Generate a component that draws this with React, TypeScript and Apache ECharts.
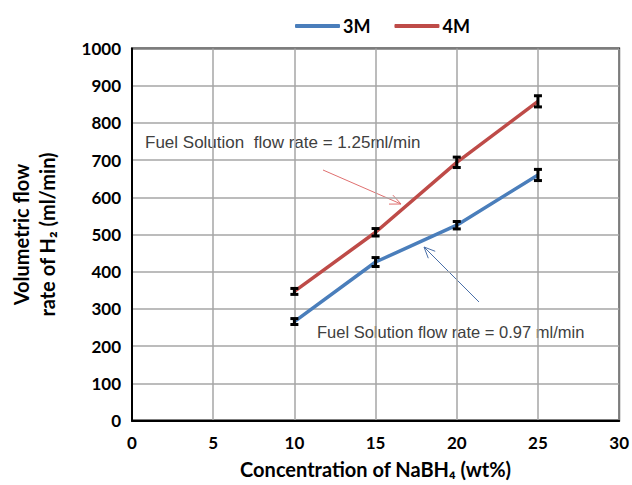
import React, { useEffect, useRef } from "react";
import * as echarts from "echarts";

const concentrations = [10, 15, 20, 25];
const series3M = [266, 426, 525, 660];
const series4M = [347, 506, 694, 858];
const err3M = [8, 12, 10, 15];
const err4M = [8, 10, 14, 15];
const xTicks = [0, 5, 10, 15, 20, 25, 30];
const yTicks = [0, 100, 200, 300, 400, 500, 600, 700, 800, 900, 1000];

const FONT = "Lato, 'Open Sans', sans-serif";
const ANN_FONT = "'Liberation Sans', Arial, sans-serif";

function arrow(x1: number, y1: number, x2: number, y2: number, color: string) {
  const ang = Math.atan2(y2 - y1, x2 - x1);
  const L = 12;
  const a = 0.42;
  const p1 = [x2 - L * Math.cos(ang - a), y2 - L * Math.sin(ang - a)];
  const p2 = [x2 - L * Math.cos(ang + a), y2 - L * Math.sin(ang + a)];
  return [
    { type: "line", shape: { x1, y1, x2, y2 }, style: { stroke: color, lineWidth: 1 } },
    { type: "polyline", shape: { points: [p1, [x2, y2], p2] }, style: { stroke: color, lineWidth: 1, fill: null } },
  ];
}

export default function App() {
  const ref = useRef<HTMLDivElement>(null);
  useEffect(() => {
    const chart = echarts.init(ref.current!, null, { renderer: "svg" });
    const errData = (vals: number[], errs: number[]) =>
      concentrations.map((x, i) => [x, vals[i] - errs[i], vals[i] + errs[i]]);
    const errSeries = (name: string, vals: number[], errs: number[]) => ({
      type: "custom",
      name: name + " err",
      data: errData(vals, errs),
      z: 5,
      renderItem: (params: any, api: any) => {
        const x = api.value(0);
        const lo = api.coord([x, api.value(1)]);
        const hi = api.coord([x, api.value(2)]);
        const w = 4;
        const st = { stroke: "#000", lineWidth: 3 };
        return {
          type: "group",
          children: [
            { type: "line", shape: { x1: lo[0], y1: lo[1], x2: hi[0], y2: hi[1] }, style: st },
            { type: "line", shape: { x1: lo[0] - w, y1: lo[1], x2: lo[0] + w, y2: lo[1] }, style: st },
            { type: "line", shape: { x1: hi[0] - w, y1: hi[1], x2: hi[0] + w, y2: hi[1] }, style: st },
          ],
        };
      },
    });
    chart.setOption({
      animation: false,
      textStyle: { fontFamily: FONT },
      legend: {
        data: ["3M", "4M"],
        left: 290,
        top: 12,
        itemWidth: 45,
        itemHeight: 4,
        itemGap: 24,
        icon: "roundRect",
        textStyle: { fontFamily: FONT, fontWeight: "bold", fontSize: 18, color: "#000", padding: [0, 0, 0, -2] },
      },
      grid: {
        left: 131,
        right: 12,
        top: 48.5,
        bottom: 64.5,
        show: true,
        borderColor: "#000",
        borderWidth: 2,
      },
      xAxis: {
        type: "value",
        min: 0,
        max: 30,
        interval: 5,
        name: "Concentration of NaBH₄ (wt%)",
        nameLocation: "middle",
        nameGap: 38,
        nameTextStyle: { fontFamily: FONT, fontWeight: "bold", fontSize: 20, color: "#000" },
        axisLine: { lineStyle: { color: "#000", width: 2 } },
        axisTick: { show: false },
        axisLabel: {
          fontFamily: FONT,
          fontWeight: "bold",
          fontSize: 17,
          color: "#000",
          margin: 13,
          formatter: (v: number) => (xTicks.includes(v) ? String(v) : ""),
        },
        splitLine: { lineStyle: { color: "#a6a6a6", width: 1.5 } },
      },
      yAxis: {
        type: "value",
        min: 0,
        max: 1000,
        interval: 100,
        name: "Volumetric flow\nrate of H₂ (ml/min)",
        nameLocation: "middle",
        nameGap: 72,
        nameRotate: 90,
        nameTextStyle: { fontFamily: FONT, fontWeight: "bold", fontSize: 20, color: "#000", lineHeight: 26, align: "center" },
        axisLine: { lineStyle: { color: "#000", width: 2 } },
        axisTick: { show: false },
        axisLabel: {
          fontFamily: FONT,
          fontWeight: "bold",
          fontSize: 17,
          color: "#000",
          margin: 11,
          formatter: (v: number) => (yTicks.includes(v) ? String(v) : ""),
        },
        splitLine: { lineStyle: { color: "#a6a6a6", width: 1.5 } },
      },
      series: [
        {
          name: "3M",
          type: "line",
          data: concentrations.map((x, i) => [x, series3M[i]]),
          symbol: "none",
          lineStyle: { color: "#4a7ebb", width: 3.5 },
          itemStyle: { color: "#4a7ebb" },
        },
        {
          name: "4M",
          type: "line",
          data: concentrations.map((x, i) => [x, series4M[i]]),
          symbol: "none",
          lineStyle: { color: "#be4b48", width: 3.5 },
          itemStyle: { color: "#be4b48" },
        },
        errSeries("3M", series3M, err3M),
        errSeries("4M", series4M, err4M),
      ],
      graphic: [
        {
          type: "text",
          x: 145,
          y: 142,
          style: { text: "Fuel Solution  flow rate = 1.25ml/min", fontFamily: ANN_FONT, fontSize: 17, fill: "#404040", verticalAlign: "middle" },
        },
        {
          type: "text",
          x: 317,
          y: 332,
          style: { text: "Fuel Solution flow rate = 0.97 ml/min", fontFamily: ANN_FONT, fontSize: 16.5, fill: "#404040", verticalAlign: "middle" },
        },
        ...arrow(323, 170, 401, 204, "#e07070"),
        ...arrow(479, 302, 424, 247, "#4a6fa8"),
      ],
    });
    return () => chart.dispose();
  }, []);
  return <div ref={ref} style={{ position: "absolute", left: 0, top: 0, width: 632, height: 485 }} />;
}
